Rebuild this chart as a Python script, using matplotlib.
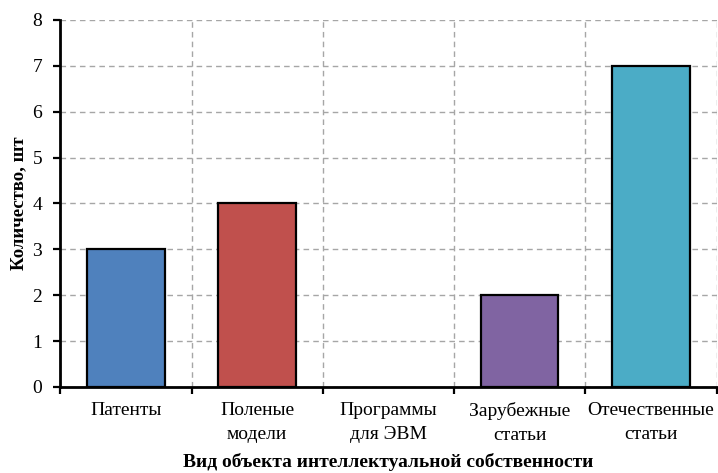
import matplotlib
matplotlib.use("Agg")
import matplotlib.pyplot as plt
import numpy as np

categories = ["Патенты", "Поленые\nмодели", "Программы\nдля ЭВМ",
              "Зарубежные\nстатьи", "Отечественные\nстатьи"]
counts = [3, 4, 0, 2, 7]
colors = ["#4F81BD", "#C0504D", "#9BBB59", "#8064A2", "#4BACC6"]
y_ticks = list(range(0, 9))

plt.rcParams["font.family"] = ["Liberation Serif", "DejaVu Serif"]

fig = plt.figure(figsize=(7.18, 4.73), dpi=100)
ax = fig.add_axes([0.084, 0.182, 0.914, 0.776])

x = np.arange(len(categories))
for xi, val, col in zip(x, counts, colors):
    if val > 0:
        ax.bar(xi, val, width=0.59, color=col, edgecolor="black",
               linewidth=1.6, zorder=3)

ax.set_xlim(-0.5, len(categories) - 0.5)
ax.set_ylim(0, 8)
ax.set_yticks(y_ticks)
ax.set_xticks(x)
ax.set_xticklabels(categories, fontsize=14, linespacing=1.55)
ax.set_xticks(np.arange(-0.5, len(categories), 1.0), minor=True)

ax.tick_params(axis="x", which="major", length=0, pad=11)
ax.tick_params(axis="x", which="minor", length=5, width=1.6, direction="out")
ax.tick_params(axis="y", length=5, width=1.6, direction="out", labelsize=14,
               pad=8)

ax.grid(axis="y", which="major", linestyle=(0, (4, 3)), color="#A6A6A6",
        linewidth=1, zorder=0)
ax.grid(axis="x", which="minor", linestyle=(0, (4, 3)), color="#A6A6A6",
        linewidth=1, zorder=0)

for side in ["top", "right"]:
    ax.spines[side].set_visible(False)
for side in ["left", "bottom"]:
    ax.spines[side].set_linewidth(2)
    ax.spines[side].set_zorder(4)

ax.set_xlabel("Вид объекта интеллектуальной собственности", fontsize=14,
              fontweight="bold", labelpad=6)
ax.set_ylabel("Количество, шт", fontsize=13.5, fontweight="bold", labelpad=4)

fig.savefig("out.png", dpi=100)
